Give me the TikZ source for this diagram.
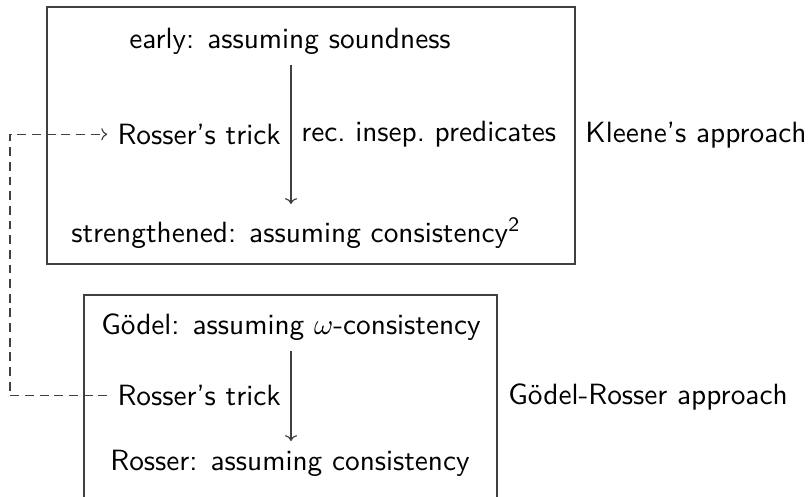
\documentclass[tikz,border=0pt]{standalone}
\usepackage{tikz}
\usetikzlibrary{arrows.meta,positioning}

\begin{document}
\begin{tikzpicture}[
  x=0.3413pt, y=-0.3413pt,
  every node/.style={font=\sffamily\fontsize{10}{12}\selectfont},
  frame/.style={draw=black!75, line width=0.45pt},
  step_arrow/.style={-{To[scale=0.8]}, draw=black!75, line width=0.4pt},
  link/.style={-{To[scale=0.8]}, dashed, dash pattern=on 3pt off 2pt, draw=black!75, line width=0.4pt}
]
  \useasboundingbox (0,0) rectangle (808,496);

  % Kleene's approach (top)
  \draw[frame] (47,7) rectangle (575,264);
  \node (early) at (290,41) {early: assuming soundness};
  \node (strong) at (296,233) {strengthened: assuming consistency\textsuperscript{2}};
  \draw[step_arrow] (early.south -| 291,0) -- (291,204)
    node[midway, left] (rtop) {Rosser's trick}
    node[midway, right] (insep) {rec.\ insep.\ predicates};
  \node (kleene) at (696,135) {Kleene's approach};

  % Goedel-Rosser approach (bottom)
  \draw[frame] (84,295) rectangle (497,520);
  \node (goedel) at (291,327) {G\"odel: assuming $\omega$-consistency};
  \node (rosser) at (290,463) {Rosser: assuming consistency};
  \draw[step_arrow] (goedel.south -| 291,0) -- (291,441)
    node[midway, left] (rbot) {Rosser's trick};
  \node (gr) at (648,397) {G\"odel-Rosser approach};

  % Rosser's trick link
  \coordinate (corner) at (10,0);
  \draw[link] (rbot.west) -| (corner |- rtop.west) -- (rtop.west);
\end{tikzpicture}
\end{document}
